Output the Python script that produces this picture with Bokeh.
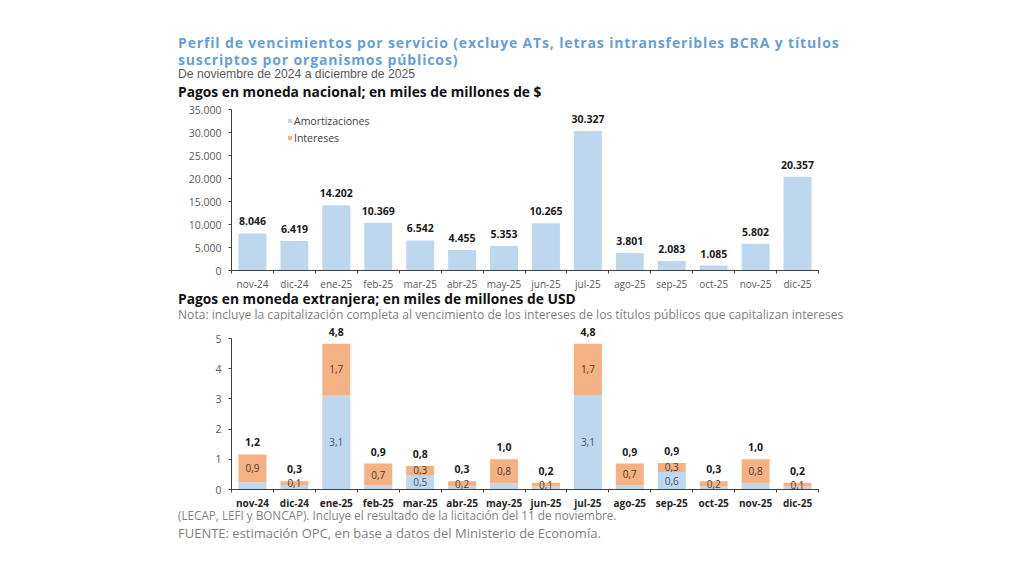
from bokeh.plotting import figure
from bokeh.models import (Div, Spacer, Range1d, FixedTicker, Legend, LegendItem,
                          ColumnDataSource)
from bokeh.layouts import row, column
from bokeh.core.properties import value
from bokeh.embed import file_html
from bokeh.resources import INLINE

# ---------------- data ----------------
months = ["nov-24", "dic-24", "ene-25", "feb-25", "mar-25", "abr-25", "may-25",
          "jun-25", "jul-25", "ago-25", "sep-25", "oct-25", "nov-25", "dic-25"]

# Pagos en moneda nacional (miles de millones de $)
ars_amortizaciones = [8046, 6419, 14202, 10369, 6542, 4455, 5353,
                      10265, 30327, 3801, 2083, 1085, 5802, 20357]
ars_intereses = [0, 0, 0, 0, 0, 0, 0, 0, 0, 0, 0, 0, 0, 0]

# Pagos en moneda extranjera (miles de millones de USD)
usd_amortizaciones = [0.24, 0.15, 3.13, 0.13, 0.48, 0.10, 0.20,
                      0.10, 3.13, 0.14, 0.58, 0.10, 0.20, 0.10]
usd_intereses = [0.92, 0.12, 1.70, 0.73, 0.30, 0.17, 0.80,
                 0.12, 1.70, 0.72, 0.30, 0.17, 0.80, 0.12]

ars_ticks = [0, 5000, 10000, 15000, 20000, 25000, 30000, 35000]
usd_ticks = [0, 1, 2, 3, 4, 5]

# ---------------- styles ----------------
BLUE = "#BDD7EE"
ORANGE = "#F4B183"
AXIS = "#404040"
TICK_TXT = "#595959"
FONT = "Open Sans"


def fmt_thousands(v):
    return f"{int(round(v)):,}".replace(",", ".")


def fmt_dec(v):
    return f"{v:.1f}".replace(".", ",")


n = len(months)
centers = [i + 0.5 for i in range(n)]
bounds = [float(i) for i in range(n + 1)]


def style_common(p, ticks, tick_fmt, bold_x=False):
    p.outline_line_color = None
    p.xgrid.grid_line_color = None
    p.ygrid.grid_line_color = None
    p.background_fill_color = "white"
    p.border_fill_color = "white"
    xa = p.xaxis[0]
    xa.ticker = FixedTicker(ticks=centers, minor_ticks=bounds)
    xa.major_label_overrides = {c: m for c, m in zip(centers, months)}
    xa.major_tick_out = 0
    xa.major_tick_in = 0
    xa.minor_tick_out = 3
    xa.minor_tick_in = 0
    xa.minor_tick_line_color = AXIS
    xa.axis_line_color = AXIS
    xa.major_label_text_font = FONT
    xa.major_label_text_font_size = "10px"
    xa.major_label_standoff = 3
    if bold_x:
        xa.major_label_text_font_style = "bold"
        xa.major_label_text_color = "#262626"
    else:
        xa.major_label_text_color = TICK_TXT
    ya = p.yaxis[0]
    ya.ticker = FixedTicker(ticks=ticks)
    ya.major_label_overrides = {t: tick_fmt(t) for t in ticks}
    ya.major_tick_out = 3
    ya.major_tick_in = 0
    ya.minor_tick_out = 0
    ya.minor_tick_in = 0
    ya.axis_line_color = AXIS
    ya.major_tick_line_color = AXIS
    ya.major_label_text_font = FONT
    ya.major_label_text_font_size = "10.5px"
    ya.major_label_text_color = TICK_TXT
    ya.major_label_standoff = 7
    ya.bounds = (ticks[0], ticks[-1])


# ---------------- top chart ----------------
ars_total = [a + b for a, b in zip(ars_amortizaciones, ars_intereses)]
src1 = ColumnDataSource(dict(
    x=centers, amort=ars_amortizaciones, inte=ars_intereses,
    total=ars_total, label=[fmt_thousands(v) for v in ars_total]))

p1 = figure(frame_width=587, frame_height=161, x_range=Range1d(0, n), y_range=Range1d(0, 35000),
            output_backend="svg", toolbar_location=None,
            min_border_left=53, min_border_right=2, min_border_top=9, min_border_bottom=22)
style_common(p1, ars_ticks, lambda t: fmt_thousands(t) if t else "0")
r1 = p1.vbar_stack(["amort", "inte"], x="x", width=0.667, color=[BLUE, ORANGE],
                   line_color=None, source=src1)
p1.text(x="x", y="total", text="label", source=src1, text_font=value(FONT),
        text_font_style="bold", text_font_size="10.5px", text_color="#1a1a1a",
        text_align="center", text_baseline="bottom", y_offset=-8)
leg = Legend(items=[LegendItem(label="Amortizaciones", renderers=[r1[0]]),
                    LegendItem(label="Intereses", renderers=[r1[1]])],
             location=(56, 124), glyph_width=5, glyph_height=5, label_height=17,
             label_text_font=FONT, label_text_font_size="10.5px",
             label_text_color="#404040", padding=0, spacing=0, margin=0,
             label_standoff=2, border_line_color=None, background_fill_alpha=0)
p1.add_layout(leg)

# ---------------- bottom chart ----------------
usd_total = [a + b for a, b in zip(usd_amortizaciones, usd_intereses)]
src2 = ColumnDataSource(dict(
    x=centers, amort=usd_amortizaciones, inte=usd_intereses, total=usd_total,
    int_mid=[a + b / 2 for a, b in zip(usd_amortizaciones, usd_intereses)],
    am_mid=[a / 2 for a in usd_amortizaciones],
    label=[fmt_dec(v) for v in usd_total],
    int_label=[fmt_dec(v) for v in usd_intereses],
    am_label=[fmt_dec(v) if v >= 0.4 else "" for v in usd_amortizaciones]))

p2 = figure(frame_width=587, frame_height=169, x_range=Range1d(0, n), y_range=Range1d(0, 5.6),
            output_backend="svg", toolbar_location=None,
            min_border_left=53, min_border_right=2, min_border_top=0, min_border_bottom=20)
style_common(p2, usd_ticks, lambda t: str(t), bold_x=True)
p2.vbar_stack(["amort", "inte"], x="x", width=0.667, color=[BLUE, ORANGE],
              line_color=None, source=src2)
p2.text(x="x", y="total", text="label", source=src2, text_font=value(FONT),
        text_font_style="bold", text_font_size="10.5px", text_color="#1a1a1a",
        text_align="center", text_baseline="bottom", y_offset=-8)
p2.text(x="x", y="int_mid", text="int_label", source=src2, text_font=value(FONT),
        text_font_size="10px", text_color="#4a3a32",
        text_align="center", text_baseline="middle")
p2.text(x="x", y="am_mid", text="am_label", source=src2, text_font=value(FONT),
        text_font_size="10px", text_color="#44546A",
        text_align="center", text_baseline="middle")

# ---------------- text blocks ----------------
def block(items, h):
    parts = [f'<div style="position:relative;width:690px;height:{h}px;">']
    for top, txt, css in items:
        parts.append(f'<div style="position:absolute;left:0;top:{top}px;white-space:nowrap;{css}">{txt}</div>')
    parts.append('</div>')
    return Div(text="".join(parts), width=690, height=h, margin=(0, 0, 0, 0),
               styles={"overflow": "visible"})

title_css = "font-family:'Open Sans';font-weight:700;font-size:14px;line-height:14px;letter-spacing:0.85px;color:#649FD6;"
head_css = "font-family:'Open Sans';font-weight:700;font-size:13.8px;line-height:13px;color:#111;"
sub_css = "font-family:'Liberation Sans';font-size:12.2px;line-height:12px;color:#595959;"
note_css = "font-family:'Open Sans';font-size:12.1px;line-height:12px;color:#7f7f7f;"
foot1_css = "font-family:'Open Sans';font-size:11.7px;line-height:12px;color:#7f7f7f;"
foot2_css = "font-family:'Open Sans';font-size:13px;line-height:13px;color:#7f7f7f;"

div_top = block([
    (36, "Perfil de vencimientos por servicio (excluye ATs, letras intransferibles BCRA y títulos", title_css),
    (53, "suscriptos por organismos públicos)", title_css),
    (68, "De noviembre de 2024 a diciembre de 2025", sub_css),
    (85, "Pagos en moneda nacional; en miles de millones de $", head_css),
], 100)

div_mid = block([
    (-1, "Pagos en moneda extranjera; en miles de millones de USD", head_css),
    (16, "Nota: incluye la capitalización completa al vencimiento de los intereses de los títulos públicos que capitalizan intereses", note_css),
], 27)

div_bot = block([
    (-3, "(LECAP, LEFI y BONCAP). Incluye el resultado de la licitación del 11 de noviembre.", foot1_css),
    (15, "FUENTE: estimación OPC, en base a datos del Ministerio de Economía.", foot2_css),
], 36)

layout = row(Spacer(width=178, height=10),
             column(div_top, p1, div_mid, p2, div_bot, spacing=0))

open("out.html", "w").write(file_html(layout, INLINE))
